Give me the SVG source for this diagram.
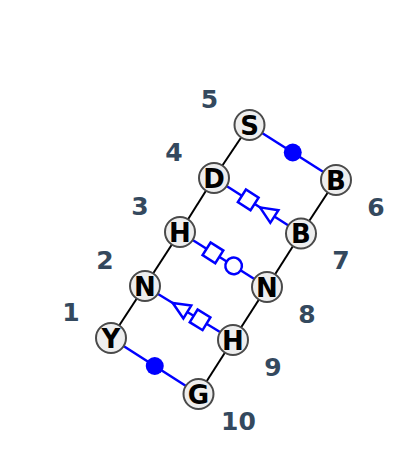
<svg xmlns="http://www.w3.org/2000/svg" xmlns:xlink="http://www.w3.org/1999/xlink" width="400" height="471" viewBox="0 0 400 471">
<style>
.bb{stroke:#000;stroke-width:2;fill:none}
.bp{stroke:#0000ff;stroke-width:2.5;fill:none}
.sym{stroke:#0000ff;stroke-width:2.5;fill:#fff}
.symf{fill:#0000ff;stroke:none}
.nd circle{fill:#eeeeee;stroke:#4a4a4a;stroke-width:2}
.nd text{font-family:"DejaVu Sans",sans-serif;font-weight:bold;font-size:26px;fill:#000;text-anchor:middle}
.num{font-family:"DejaVu Sans",sans-serif;font-weight:bold;font-size:25px;fill:#34495e;text-anchor:middle}
</style>
<defs>
<rect id="sq" class="sym" x="-7.5" y="-7.5" width="15" height="15"/>
<polygon id="tri" class="sym" points="-8.5,0 8.5,-7.5 8.5,7.5"/>
<circle id="oc" class="sym" r="8.3"/>
<circle id="fc" class="symf" r="9"/>
</defs>
<g id="connectors">
<line class="bb" x1="249.5" y1="125" x2="214" y2="178"/>
<line class="bb" x1="214" y1="178" x2="180" y2="232"/>
<line class="bb" x1="180" y1="232" x2="145" y2="286"/>
<line class="bb" x1="145" y1="286" x2="111" y2="338"/>
<line class="bb" x1="336" y1="180" x2="301" y2="233.5"/>
<line class="bb" x1="301" y1="233.5" x2="267" y2="287"/>
<line class="bb" x1="267" y1="287" x2="233" y2="340"/>
<line class="bb" x1="233" y1="340" x2="198.5" y2="394"/>
<line class="bp" x1="249.5" y1="125" x2="336" y2="180"/>
<line class="bp" x1="214" y1="178" x2="301" y2="233.5"/>
<line class="bp" x1="180" y1="232" x2="267" y2="287"/>
<line class="bp" x1="145" y1="286" x2="233" y2="340"/>
<line class="bp" x1="111" y1="338" x2="198.5" y2="394"/>
<use xlink:href="#fc" transform="translate(292.75,152.5)"/>
<g transform="translate(257.5,205.75) rotate(32.54)">
<use xlink:href="#sq" x="-11"/>
<use xlink:href="#tri" x="11.5"/>
</g>
<g transform="translate(223.5,259.5) rotate(32.3)">
<use xlink:href="#sq" x="-12.5"/>
<use xlink:href="#oc" x="12"/>
</g>
<g transform="translate(189,313) rotate(31.53)">
<use xlink:href="#tri" x="-10.5"/>
<use xlink:href="#sq" x="13"/>
</g>
<use xlink:href="#fc" transform="translate(154.75,366)"/>
</g>
<g id="n1" class="nd"><circle cx="111" cy="338" r="15"/><text x="111" y="347.5">Y</text></g>
<g id="n2" class="nd"><circle cx="145" cy="286" r="15"/><text x="145" y="295.5">N</text></g>
<g id="n3" class="nd"><circle cx="180" cy="232" r="15"/><text x="180" y="241.5">H</text></g>
<g id="n4" class="nd"><circle cx="214" cy="178" r="15"/><text x="214" y="187.5">D</text></g>
<g id="n5" class="nd"><circle cx="249.5" cy="125" r="15"/><text x="249.5" y="134.5">S</text></g>
<g id="n6" class="nd"><circle cx="336" cy="180" r="15"/><text x="336" y="189.5">B</text></g>
<g id="n7" class="nd"><circle cx="301" cy="233.5" r="15"/><text x="301" y="243">B</text></g>
<g id="n8" class="nd"><circle cx="267" cy="287" r="15"/><text x="267" y="296.5">N</text></g>
<g id="n9" class="nd"><circle cx="233" cy="340" r="15"/><text x="233" y="349.5">H</text></g>
<g id="n10" class="nd"><circle cx="198.5" cy="394" r="15"/><text x="198.5" y="403.5">G</text></g>
<g id="labels">
<text class="num" x="71" y="320.6">1</text>
<text class="num" x="105" y="268.6">2</text>
<text class="num" x="140" y="214.6">3</text>
<text class="num" x="174" y="160.6">4</text>
<text class="num" x="209.5" y="107.6">5</text>
<text class="num" x="376" y="215.6">6</text>
<text class="num" x="341" y="269.1">7</text>
<text class="num" x="307" y="322.6">8</text>
<text class="num" x="273" y="375.6">9</text>
<text class="num" x="238.5" y="429.6">10</text>
</g>
</svg>
